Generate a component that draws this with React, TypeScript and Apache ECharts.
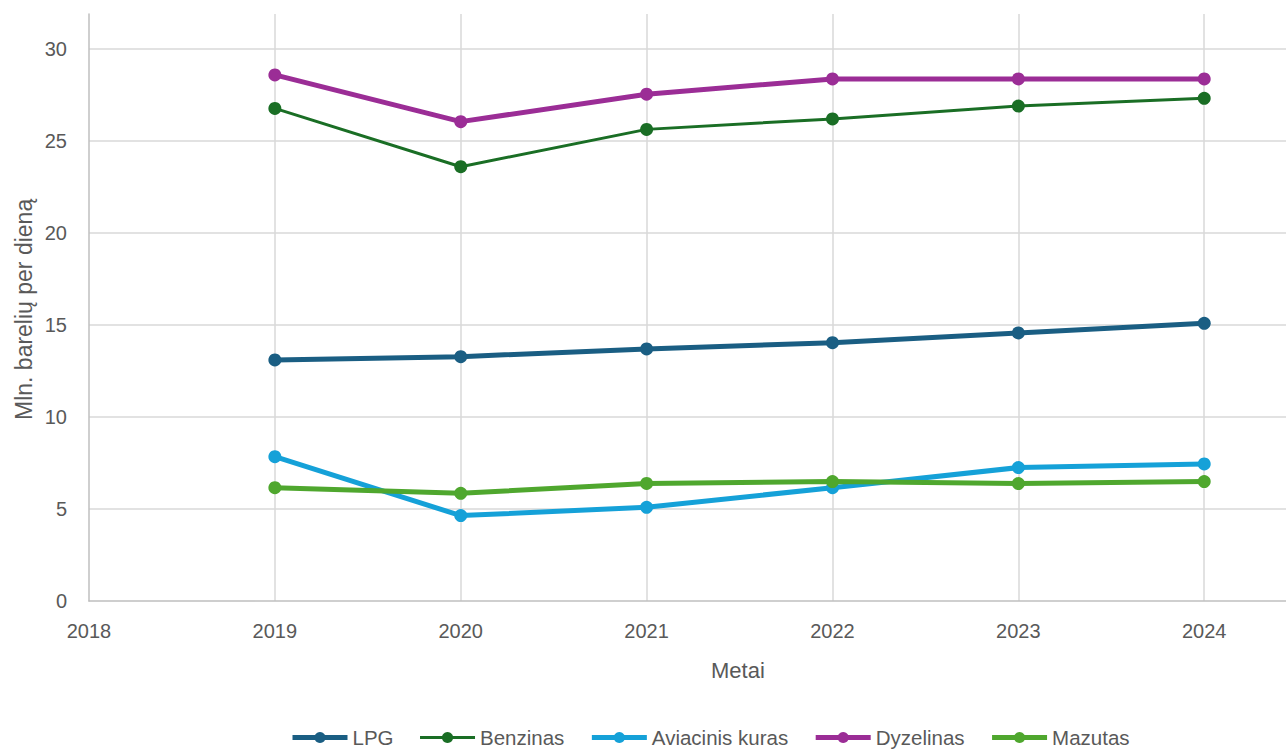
import React, { useEffect, useRef } from "react";
import * as echarts from "echarts";

// Years on the horizontal value axis
const years = [2019, 2020, 2021, 2022, 2023, 2024];

// Consumption, million barrels per day
const lpg = [13.1, 13.28, 13.7, 14.04, 14.57, 15.09];
const benzinas = [26.77, 23.6, 25.63, 26.2, 26.9, 27.32];
const aviacinisKuras = [7.84, 4.64, 5.09, 6.16, 7.25, 7.45];
const dyzelinas = [28.59, 26.05, 27.54, 28.37, 28.37, 28.37];
const mazutas = [6.16, 5.85, 6.39, 6.49, 6.38, 6.49];

const seriesNames = ["LPG", "Benzinas", "Aviacinis kuras", "Dyzelinas", "Mazutas"];
const seriesValues = [lpg, benzinas, aviacinisKuras, dyzelinas, mazutas];
const seriesColors = ["#1a5e83", "#1a6e25", "#15a1d8", "#9b2d96", "#4fa72e"];
const seriesWidths = [5, 3, 5, 5, 5];

const yTitle = "Mln. barelių per dieną";
const xTitle = "Metai";

const FONT = "'Liberation Sans', Arial, sans-serif";
const TEXT = "#595959";
const GRID = "#d9d9d9";

export default function App() {
  const ref = useRef<HTMLDivElement>(null);

  useEffect(() => {
    if (!ref.current) return;
    const chart = echarts.init(ref.current, undefined, { renderer: "svg" });

    const series = seriesNames.map((name, i) => ({
      name,
      type: "line",
      data: years.map((y, j) => [y, seriesValues[i][j]]),
      symbol: "circle",
      symbolSize: 13,
      showSymbol: true,
      lineStyle: { color: seriesColors[i], width: seriesWidths[i] },
      itemStyle: { color: seriesColors[i] },
      z: 3,
    }));

    chart.setOption({
      animation: false,
      backgroundColor: "#ffffff",
      textStyle: { fontFamily: FONT },
      grid: { left: 89, right: 0, top: 14, bottom: 148, containLabel: false },
      xAxis: {
        type: "value",
        min: 2018,
        max: 2024.44,
        interval: 1,
        axisLine: { show: true, lineStyle: { color: "#bfbfbf", width: 1.5 } },
        axisTick: { show: false },
        splitLine: { show: true, showMinLine: false, showMaxLine: false, lineStyle: { color: GRID, width: 1.5 } },
        axisLabel: {
          color: TEXT,
          fontSize: 20,
          fontFamily: FONT,
          margin: 20,
          showMaxLabel: false,
          formatter: (v: number) => (Number.isInteger(v) ? String(v) : ""),
        },
      },
      yAxis: {
        type: "value",
        min: 0,
        max: 31.9,
        interval: 5,
        axisLine: { show: true, lineStyle: { color: "#bfbfbf", width: 1.5 } },
        axisTick: { show: false },
        splitLine: { show: true, showMinLine: false, showMaxLine: false, lineStyle: { color: GRID, width: 1.5 } },
        axisLabel: {
          color: TEXT,
          fontSize: 20,
          fontFamily: FONT,
          margin: 22,
          showMaxLabel: false,
          formatter: (v: number) => (Number.isInteger(v) ? String(v) : ""),
        },
      },
      legend: {
        data: seriesNames.map((name, i) => ({
          name,
          lineStyle: { width: seriesWidths[i], color: seriesColors[i] },
        })),
        left: 290,
        top: 727,
        padding: 0,
        itemWidth: 55,
        itemHeight: 14,
        itemGap: 25,
        textStyle: {
          color: TEXT,
          fontSize: 20.5,
          fontFamily: FONT,
        },
      },
      graphic: [
        {
          type: "text",
          left: 711,
          top: 659,
          style: { text: xTitle, fill: TEXT, font: `22px ${FONT}` },
        },
        {
          type: "text",
          x: 12,
          y: 420,
          rotation: Math.PI / 2,
          style: {
            text: yTitle,
            fill: TEXT,
            font: `23px ${FONT}`,
            textAlign: "left",
            textVerticalAlign: "top",
          },
        },
      ],
      series,
    });

    return () => chart.dispose();
  }, []);

  return (
    <div style={{ position: "fixed", left: 0, top: 0, width: 1286, height: 749 }}>
      <div ref={ref} style={{ width: 1286, height: 749 }} />
    </div>
  );
}
